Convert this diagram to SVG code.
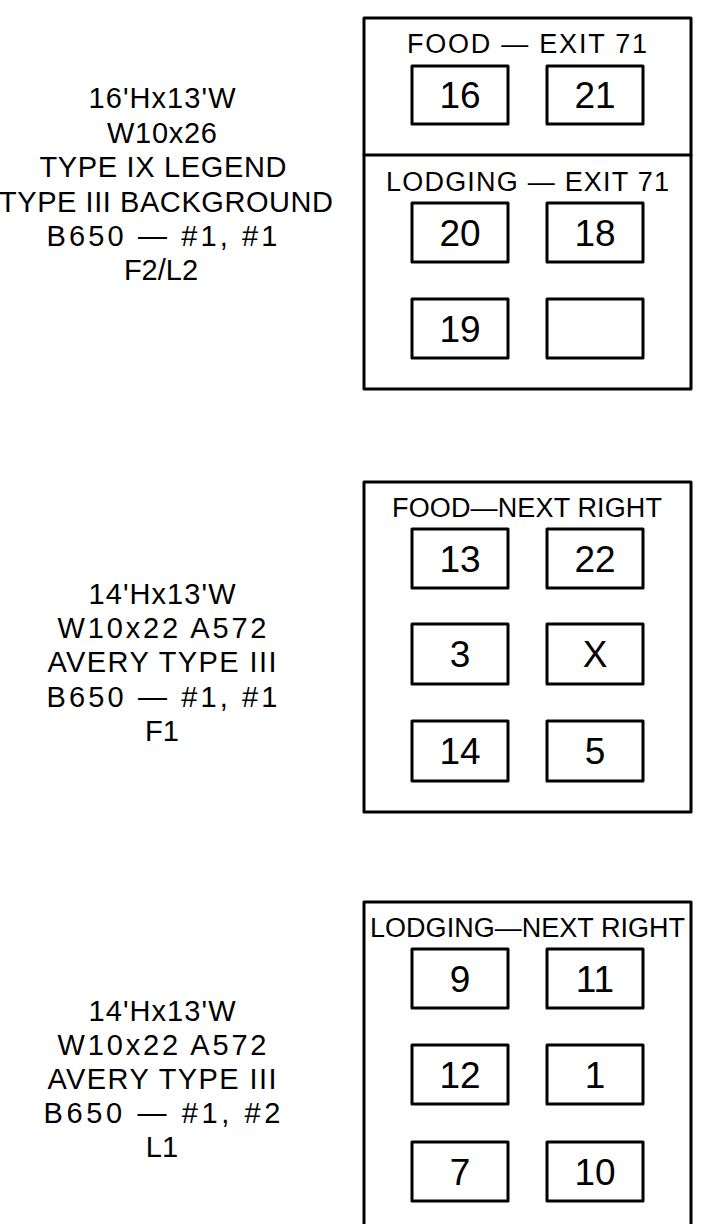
<svg xmlns="http://www.w3.org/2000/svg" width="720" height="1224" viewBox="0 0 720 1224">
<style>
  .bg { fill: #ffffff; }
  .frame { fill: none; stroke: #000000; stroke-width: 3; stroke-linejoin: round; stroke-linecap: round; }
  .panel { fill: #ffffff; stroke: #000000; stroke-width: 3; stroke-linejoin: round; }
  .lbl { font-family: "Liberation Sans", Arial, sans-serif; font-size: 29px; fill: #000000; text-anchor: middle; }
  .hdr { font-family: "Liberation Sans", Arial, sans-serif; font-size: 27px; fill: #000000; text-anchor: middle; }
  .num { font-family: "Liberation Sans", Arial, sans-serif; font-size: 37px; fill: #000000; text-anchor: middle; }
</style>
<rect class="bg" x="0" y="0" width="720" height="1224"/>

<g id="info1">
  <text class="lbl" x="162" y="108" textLength="147" lengthAdjust="spacing">16'Hx13'W</text>
  <text class="lbl" x="162" y="143" textLength="110" lengthAdjust="spacing">W10x26</text>
  <text class="lbl" x="163" y="177" textLength="247" lengthAdjust="spacing">TYPE IX LEGEND</text>
  <text class="lbl" x="166" y="212" textLength="334" lengthAdjust="spacing">TYPE III BACKGROUND</text>
  <text class="lbl" x="162" y="246" textLength="231" lengthAdjust="spacing">B650 — #1, #1</text>
  <text class="lbl" x="161" y="280">F2/L2</text>
</g>

<g id="sign1">
  <rect class="frame" x="364" y="18" width="327" height="371"/>
  <line class="frame" x1="364" y1="155" x2="691" y2="155"/>
  <text class="hdr" x="527" y="53" textLength="240" lengthAdjust="spacing">FOOD — EXIT 71</text>
  <text class="hdr" x="527.5" y="191" textLength="283" lengthAdjust="spacing">LODGING — EXIT 71</text>
  <g id="p16"><rect class="panel" x="412" y="66" width="96" height="58"/><text class="num" x="460" y="108">16</text></g>
  <g id="p21"><rect class="panel" x="547" y="66" width="96" height="58"/><text class="num" x="595" y="108">21</text></g>
  <g id="p20"><rect class="panel" x="412" y="203" width="96" height="59"/><text class="num" x="460" y="246">20</text></g>
  <g id="p18"><rect class="panel" x="547" y="203" width="96" height="59"/><text class="num" x="595" y="246">18</text></g>
  <g id="p19"><rect class="panel" x="412" y="299" width="96" height="59"/><text class="num" x="460" y="342">19</text></g>
  <g id="pblank"><rect class="panel" x="547" y="299" width="96" height="59"/></g>
</g>

<g id="info2">
  <text class="lbl" x="162" y="604" textLength="147" lengthAdjust="spacing">14'Hx13'W</text>
  <text class="lbl" x="162" y="638" textLength="209" lengthAdjust="spacing">W10x22 A572</text>
  <text class="lbl" x="162" y="672" textLength="229" lengthAdjust="spacing">AVERY TYPE III</text>
  <text class="lbl" x="162" y="707" textLength="231" lengthAdjust="spacing">B650 — #1, #1</text>
  <text class="lbl" x="162" y="741">F1</text>
</g>

<g id="sign2">
  <rect class="frame" x="364" y="482" width="327" height="330"/>
  <text class="hdr" x="527" y="517" textLength="270" lengthAdjust="spacing">FOOD—NEXT RIGHT</text>
  <g id="p13"><rect class="panel" x="412" y="529" width="96" height="59"/><text class="num" x="460" y="572">13</text></g>
  <g id="p22"><rect class="panel" x="547" y="529" width="96" height="59"/><text class="num" x="595" y="572">22</text></g>
  <g id="p3"><rect class="panel" x="412" y="624" width="96" height="60"/><text class="num" x="460" y="667">3</text></g>
  <g id="pX"><rect class="panel" x="547" y="624" width="96" height="60"/><text class="num" x="595" y="667">X</text></g>
  <g id="p14"><rect class="panel" x="412" y="721" width="96" height="60"/><text class="num" x="460" y="764">14</text></g>
  <g id="p5"><rect class="panel" x="547" y="721" width="96" height="60"/><text class="num" x="595" y="764">5</text></g>
</g>

<g id="info3">
  <text class="lbl" x="162" y="1021" textLength="147" lengthAdjust="spacing">14'Hx13'W</text>
  <text class="lbl" x="162" y="1055" textLength="209" lengthAdjust="spacing">W10x22 A572</text>
  <text class="lbl" x="162" y="1089" textLength="229" lengthAdjust="spacing">AVERY TYPE III</text>
  <text class="lbl" x="162" y="1123" textLength="237" lengthAdjust="spacing">B650 — #1, #2</text>
  <text class="lbl" x="162" y="1157">L1</text>
</g>

<g id="sign3">
  <path class="frame" d="M364,1230 V902 H691 V1230"/>
  <text class="hdr" x="527.5" y="937" textLength="315" lengthAdjust="spacing">LODGING—NEXT RIGHT</text>
  <g id="p9"><rect class="panel" x="412" y="949" width="96" height="59"/><text class="num" x="460" y="992">9</text></g>
  <g id="p11"><rect class="panel" x="547" y="949" width="96" height="59"/><text class="num" x="595" y="992">11</text></g>
  <g id="p12"><rect class="panel" x="412" y="1045" width="96" height="59"/><text class="num" x="460" y="1088">12</text></g>
  <g id="p1"><rect class="panel" x="547" y="1045" width="96" height="59"/><text class="num" x="595" y="1088">1</text></g>
  <g id="p7"><rect class="panel" x="412" y="1142" width="96" height="59"/><text class="num" x="460" y="1185">7</text></g>
  <g id="p10"><rect class="panel" x="547" y="1142" width="96" height="59"/><text class="num" x="595" y="1185">10</text></g>
</g>
</svg>
